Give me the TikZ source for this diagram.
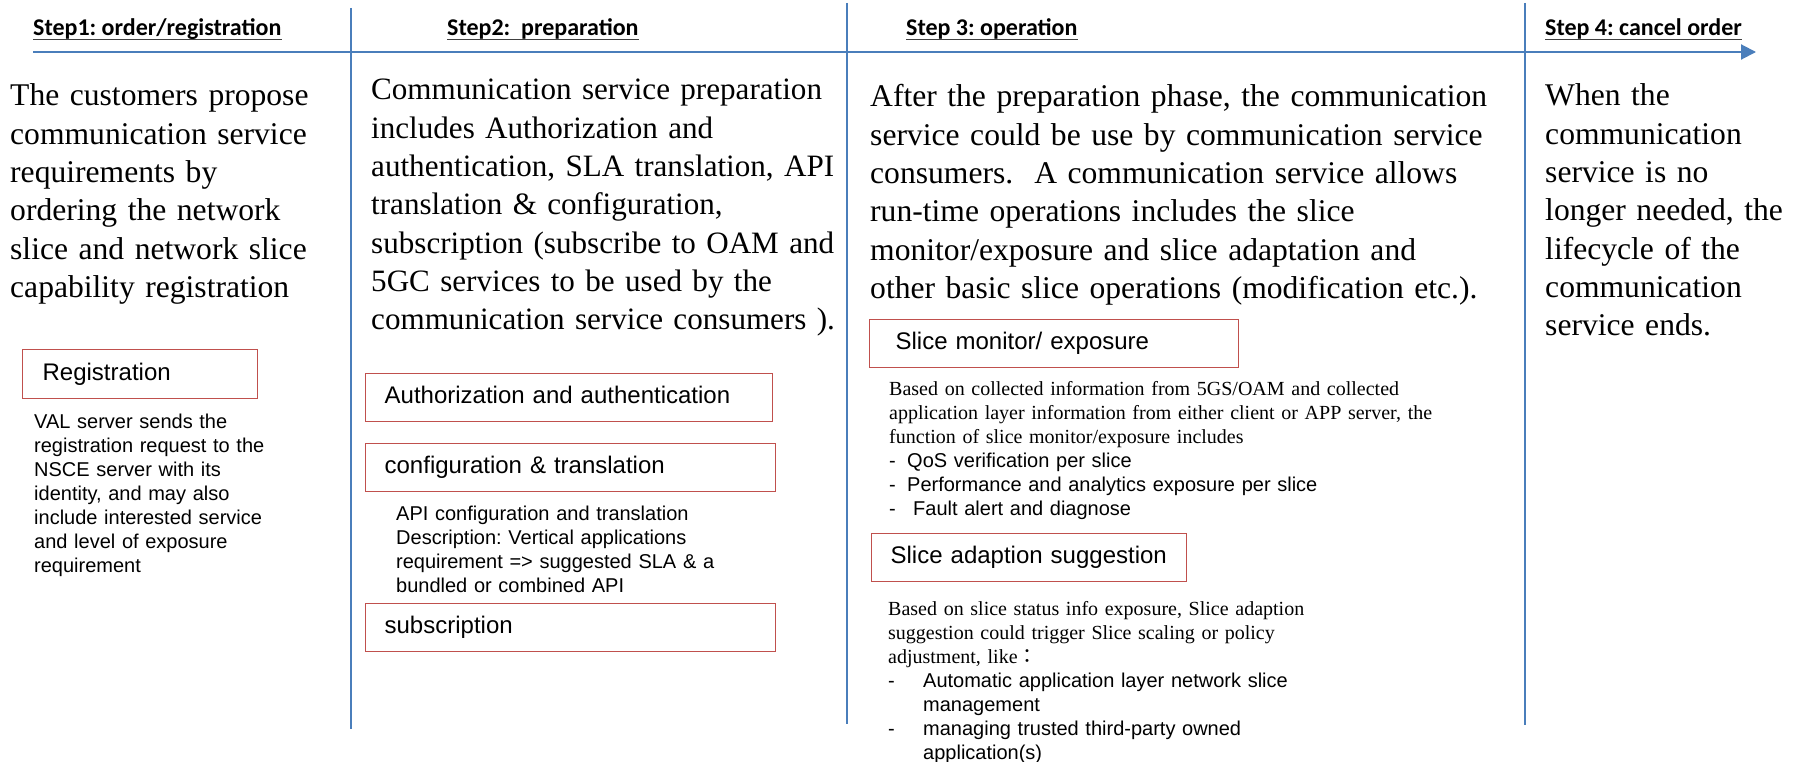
\documentclass[tikz,border=0pt]{standalone}
\usepackage{fontspec}
\setmainfont{Liberation Serif}
\setsansfont{Liberation Sans}
\newfontfamily\hdrfont{Carlito}
\newfontfamily\cjkfont{Noto Sans CJK JP}
\usepackage{xcolor}
\usetikzlibrary{positioning,arrows.meta}
\definecolor{lineblue}{HTML}{4A7EBB}
\definecolor{boxred}{HTML}{C0504D}
\frenchspacing

\begin{document}
\begin{tikzpicture}[x=1pt, y=-1pt,
  head/.style={anchor=base west, inner sep=0pt, font=\hdrfont\bfseries\fontsize{24}{28}\selectfont},
  uline/.style={line width=1.4pt, black!75},
  tline/.style={draw=lineblue, line width=2pt},
  para/.style={anchor=base west, inner sep=0pt, align=left, text width=#1, font=\fontsize{31.6}{38.3}\selectfont},
  note/.style={anchor=base west, inner sep=0pt, align=left, text width=#1, font=\sffamily\fontsize{20}{24}\selectfont},
  snote/.style={anchor=base west, inner sep=0pt, align=left, text width=#1, font=\fontsize{20}{24}\selectfont},
  box/.style={draw=boxred, line width=1.3pt, anchor=north west, minimum height=48pt, inner ysep=0pt, inner xsep=19pt,
    align=left, text width=#1, text height=17pt, text depth=5pt, font=\sffamily\fontsize{24}{28}\selectfont}]
\useasboundingbox (0,0) rectangle (1798,762);

\node[head] (s1) at (33,36) {Step1: order/registration};
\node[head] (s2) at (447,36) {Step2:\ \ preparation};
\node[head] (s3) at (906,36) {Step 3: operation};
\node[head] (s4) at (1545,36) {Step 4: cancel order};
\foreach \s in {s1,s2,s3,s4}
  \draw[uline] ([yshift=-3.3pt]\s.base west) -- ([yshift=-3.3pt]\s.base east);

\coordinate (ax0) at (33,52);
\coordinate (ax1) at (1756,52);
\coordinate (v1t) at (351,8);   \coordinate (v1b) at (351,729);
\coordinate (v2t) at (847,3);   \coordinate (v2b) at (847,724);
\coordinate (v3t) at (1525,3);  \coordinate (v3b) at (1525,725);
\draw[tline, -{Triangle[length=15pt,width=15pt]}] (ax0) -- (ax1);
\draw[tline] (v1t) -- (v1b);
\draw[tline] (v2t) -- (v2b);
\draw[tline] (v3t) -- (v3b);

\node[para=335] (p1) at (10,106) {The customers propose\\communication service\\requirements by\\ordering the network\\slice and network slice\\capability registration};
\node[para=560, font=\fontsize{31.1}{38.3}\selectfont] (p2) at (371,100) {Communication service preparation\\includes Authorization and\\authentication, SLA translation, API\\translation \& configuration,\\subscription (subscribe to OAM and\\5GC services to be used by the\\communication service consumers ).};
\node[para=650] (p3) at (870,107) {After the preparation phase, the communication\\service could be use by communication service\\consumers.\ \ A communication service allows\\run-time operations includes the slice\\monitor/exposure and slice adaptation and\\other basic slice operations (modification etc.).};
\node[para=252] (p4) at (1545,106) {When the\\communication\\service is no\\longer needed, the\\lifecycle of the\\communication\\service ends.};

\node[box=195, inner xsep=20pt, minimum height=49pt] (reg) at (22,349) {Registration};
\node[note=300] (regd) at (34,428) {VAL server sends the\\registration request to the\\NSCE server with its\\identity, and may also\\include interested service\\and level of exposure\\requirement};

\node[box=369] (auth) at (365,373) {Authorization and authentication};
\node[box=372] (conf) at (365,443) {configuration \& translation};
\node[note=420] (confd) at (396,520) {API configuration and translation\\Description: Vertical applications\\requirement => suggested SLA \& a\\bundled or combined API};
\node[box=372] (subs) at (365,603) {subscription};

\node[box=317, inner xsep=26pt] (mon) at (869,319) {Slice monitor/ exposure};
\node[snote=620] (mond) at (889,395) {Based on collected information from 5GS/OAM and collected\\application layer information from either client or APP server, the\\function of slice monitor/exposure includes\\{\sffamily\makebox[18pt][l]{-}QoS verification per slice}\\{\sffamily\makebox[18pt][l]{-}Performance and analytics exposure per slice}\\{\sffamily\makebox[24pt][l]{-}Fault alert and diagnose}};

\node[box=277] (adp) at (871,533) {Slice adaption suggestion};
\node[snote=620] (adpd) at (888,615) {Based on slice status info exposure, Slice adaption\\suggestion could trigger Slice scaling or policy\\adjustment, like{\cjkfont ：}\\{\sffamily\makebox[35pt][l]{-}Automatic application layer network slice}\\{\sffamily\hspace*{35pt}management}\\{\sffamily\makebox[35pt][l]{-}managing trusted third-party owned}\\{\sffamily\hspace*{35pt}application(s)}};
\end{tikzpicture}
\end{document}
